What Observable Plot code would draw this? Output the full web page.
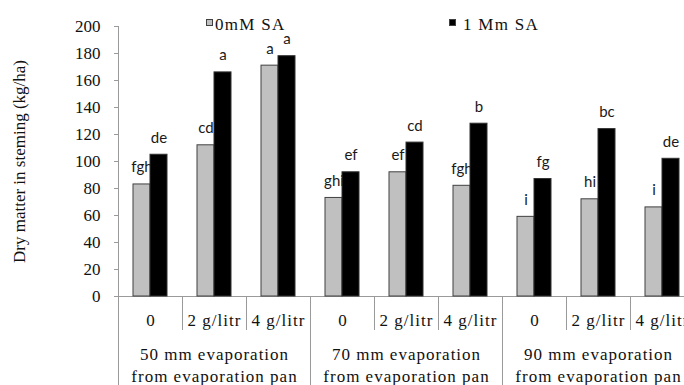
<!DOCTYPE html>
<html>
<head>
<meta charset="utf-8">
<script src="https://cdn.jsdelivr.net/npm/d3@7"></script>
<script src="https://cdn.jsdelivr.net/npm/@observablehq/plot@0.6"></script>
<style>
  html, body { margin: 0; padding: 0; background: #fff; overflow: hidden; }
  #wrap { position: relative; width: 684px; height: 385px; overflow: hidden; background: #fff; }
  .leg { position: absolute; font-family: "Liberation Serif", "Times New Roman", serif; font-size: 17px; line-height: 1; color: #111; letter-spacing: 1.3px; white-space: nowrap; }
  .sw { position: absolute; width: 7px; height: 7px; box-sizing: border-box; border: 1px solid #404040; }
</style>
</head>
<body>
<div id="wrap">
  <div class="sw" style="left:206px; top:19px; background:#c0c0c0;"></div>
  <div class="leg" style="left:215px; top:16px;">0mM SA</div>
  <div class="sw" style="left:449px; top:19px; background:#000;"></div>
  <div class="leg" style="left:463px; top:16px;">1 Mm SA</div>
</div>
<script>
const groups = ["50 mm evaporation\nfrom evaporation pan", "70 mm evaporation\nfrom evaporation pan", "90 mm evaporation\nfrom evaporation pan"];
const levels = ["0", "2 g/litr", "4 g/litr"];
const series = ["0mM SA", "1 Mm SA"];
const control = [83, 112, 171, 73, 92, 82, 59, 72, 66];
const treated = [105, 166, 178, 92, 114, 128, 87, 124, 102];
const controlLetters = ["fgh", "cd", "a", "ghi", "ef", "fgh", "i", "hi", "i"];
const treatedLetters = ["de", "a", "a", "ef", "cd", "b", "fg", "bc", "de"];
const yTicks = [0, 20, 40, 60, 80, 100, 120, 140, 160, 180, 200];

const keys = groups.flatMap((g, gi) => levels.map(l => `${gi}|${l}`));
const rowsA = keys.map((k, i) => ({key: k, series: series[0], value: control[i], letter: controlLetters[i]}));
const rowsB = keys.map((k, i) => ({key: k, series: series[1], value: treated[i], letter: treatedLetters[i]}));
const groupStarts = keys.filter((k, i) => i % levels.length === 0);

const W = 694, ML = 118, MR = 0, MT = 26, MB = 89, H = 385;
const bw = (W - ML - MR) / keys.length;
const plotH = H - MT - MB;
const serif = "Liberation Serif, Times New Roman, serif";
const sans = "Lato, Open Sans, sans-serif";
const lineColor = "#9a9a9a";

const chart = Plot.plot({
  width: W, height: H,
  marginLeft: ML, marginRight: MR, marginTop: MT, marginBottom: MB,
  style: {maxWidth: "none", background: "transparent", overflow: "visible"},
  fx: {domain: keys, padding: 0, label: null},
  x: {domain: series, paddingInner: 0, paddingOuter: 0.83, axis: null},
  y: {domain: [0, 200]},
  marks: [
    Plot.ruleY([0], {stroke: lineColor}),
    Plot.ruleX(keys, {fx: d => d, x: null, dx: -bw / 2, insetTop: plotH, insetBottom: -34, stroke: lineColor}),
    Plot.ruleX(groupStarts, {fx: d => d, x: null, dx: -bw / 2, insetTop: plotH, insetBottom: -MB, stroke: lineColor}),
    Plot.ruleX([keys[0]], {fx: d => d, x: null, dx: -bw / 2, stroke: lineColor}),
    Plot.axisY({
      ticks: yTicks, tickSize: 4, tickPadding: 14, tickFormat: d => d,
      stroke: lineColor, fill: "#111",
      fontSize: 17, fontFamily: serif,
      label: "Dry matter in steming (kg/ha)", labelAnchor: "center", labelOffset: 106, labelArrow: "none"
    }),
    Plot.axisFx({
      anchor: "bottom", tickSize: 0, tickPadding: 17, label: null,
      tickFormat: k => k.split("|")[1],
      fontSize: 17, fontFamily: serif, fill: "#111"
    }),
    Plot.text(groups, {
      fx: (d, i) => keys[i * levels.length + 1], text: d => d,
      frameAnchor: "bottom", lineAnchor: "top", dy: 48, lineHeight: 1.3,
      fontSize: 17, fontFamily: serif, fill: "#111"
    }),
    Plot.barY(rowsA, {fx: "key", x: "series", y: "value", fill: "#c0c0c0", stroke: "#404040", strokeWidth: 1}),
    Plot.text(rowsA, {fx: "key", x: "series", y: "value", text: "letter", dy: -12, lineAnchor: "bottom", fontSize: 15, fontFamily: sans, fill: "#1a1a1a"}),
    Plot.barY(rowsB, {fx: "key", x: "series", y: "value", fill: "#000", stroke: "#303030", strokeWidth: 1}),
    Plot.text(rowsB, {fx: "key", x: "series", y: "value", text: "letter", dy: -12, lineAnchor: "bottom", fontSize: 15, fontFamily: sans, fill: "#1a1a1a"})
  ]
});
chart.style.position = "absolute";
chart.style.left = "0px";
chart.style.top = "0px";
// letter spacing like the reference's stretched serif text
chart.querySelectorAll("text").forEach(t => {
  const s = t.textContent;
  if (/evaporation/.test(s)) t.style.letterSpacing = "1px";
  else if (/g\/litr/.test(s)) t.style.letterSpacing = "1px";
});
const wrap = document.getElementById("wrap");
wrap.insertBefore(chart, wrap.firstChild);
</script>
</body>
</html>
